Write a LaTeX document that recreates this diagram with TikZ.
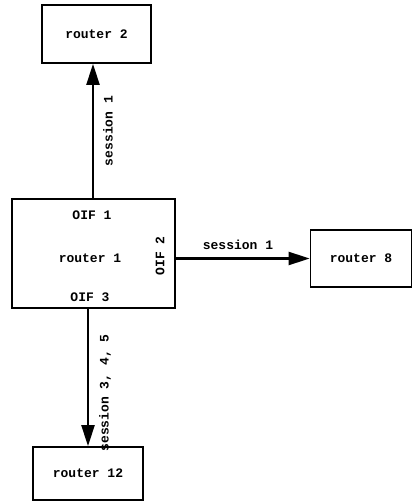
\documentclass[tikz,border=0pt]{standalone}
\usepackage{fontspec}
\setmonofont{Liberation Mono}
\usetikzlibrary{arrows.meta}
\begin{document}
\begin{tikzpicture}[x=1pt,y=-1pt,
  font=\ttfamily\bfseries\fontsize{13}{15}\selectfont,
  box/.style={draw,line width=1.7pt,inner sep=0pt},
  conn/.style={line width=2.2pt,-{Triangle[length=21pt,width=13pt]}},
  lbl/.style={inner sep=0pt}]
\useasboundingbox (0,0) rectangle (414,502);
\node[box,minimum width=109pt,minimum height=58pt] (r2) at (96.5,34) {router 2};
\node[box,minimum width=163pt,minimum height=109pt] (r1) at (93.5,253.5) {};
\node[box,minimum width=101pt,minimum height=57pt] (r8) at (361,258.5) {router 8};
\node[box,minimum width=110pt,minimum height=53pt] (r12) at (88,473.5) {router 12};
\node[lbl] (oif1) at (92,215) {OIF 1};
\node[lbl] (r1t) at (90,258) {router 1};
\node[lbl] (oif3) at (90,297) {OIF 3};
\node[lbl,rotate=90] (oif2) at (160,256) {OIF 2};
\coordinate (a1) at (93,0);
\draw[conn] (r1.north -| a1) -- (r2.south -| a1);
\draw[conn] (r8.west -| r1.east) -- (r8.west);
\draw[conn] (r12.north |- r1.south) -- (r12.north);
\node[lbl,rotate=90] (s1v) at (108,131) {session 1};
\node[lbl] (s1h) at (238,245) {session 1};
\node[lbl,rotate=90] (s345) at (105,393) {session 3, 4, 5};
\end{tikzpicture}
\end{document}
